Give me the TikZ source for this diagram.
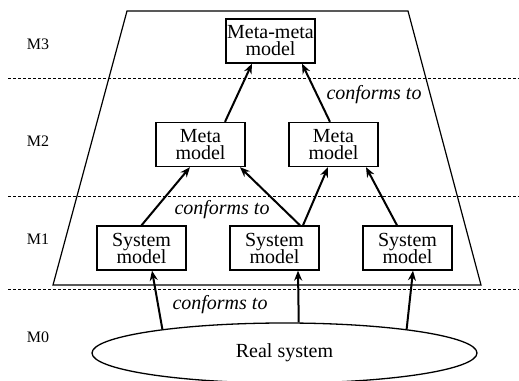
\documentclass[tikz,border=0pt]{standalone}
\usepackage{fontspec}
\setmainfont{Liberation Serif}
\usetikzlibrary{shapes.geometric,arrows.meta}
\newcommand\boxfont{\fontsize{20}{17}\selectfont\lineskiplimit=-20pt\relax}
\tikzset{
  model/.style={draw,rectangle,line width=1.3pt,minimum width=89pt,minimum height=44pt,
    inner sep=0pt,align=center,font=\boxfont},
  level/.style={font=\fontsize{16}{16}\selectfont},
  conf/.style={-{Stealth[length=10pt,width=8pt]},line width=2pt},
  note/.style={font=\fontsize{20}{20}\selectfont\itshape},
  layer/.style={dash pattern=on 3pt off 2pt,line width=0.8pt}
}
\begin{document}
\begin{tikzpicture}[x=1pt,y=-1pt]
          \useasboundingbox (0,0) rectangle (519,380);
          \draw[line width=1.2pt] (127,11) -- (408,11) -- (481,285) -- (53,285) -- cycle;
          \draw[layer] (8,78) -- (519,78);
          \draw[layer] (8,196) -- (519,196);
          \draw[layer] (8,289) -- (519,289);
          \node[level] (m3) at (38,44) {M3};
          \node[level] (m2) at (38,141) {M2};
          \node[level] (m1) at (38,239) {M1};
          \node[level] (m0) at (38,337) {M0};
          \node[model] (mm) at (270.5,41) {Meta-meta\\model};
          \node[model] (ml) at (200.5,144.5) {Meta\\model};
          \node[model] (mr) at (333.5,144.5) {Meta\\model};
          \node[model] (sl) at (141.5,248) {System\\model};
          \node[model] (sm) at (274.5,248) {System\\model};
          \node[model] (sr) at (407.5,248) {System\\model};
          \node[draw,ellipse,line width=1.3pt,minimum width=385pt,minimum height=60pt,inner sep=0pt,
            font=\fontsize{20}{20}\selectfont] (rs) at (284.5,353) {Real system};
          \node[note] (c2) at (374,95) {conforms to};
          \node[note] (c1) at (222,210) {conforms to};
          \node[note] (c0) at (220,305) {conforms to};
          \path[conf] ([xshift=24.5pt]ml.north) edge ([xshift=-18.5pt]mm.south);
          \path[conf] ([xshift=-3.5pt]mr.north) edge ([xshift=31.5pt]mm.south);
          \path[conf] (sl.north) edge ([xshift=-10.5pt]ml.south);
          \path[conf] ([xshift=25.5pt]sm.north) edge ([xshift=39.5pt]ml.south);
          \path[conf] ([xshift=28.5pt]sm.north) edge ([xshift=-5.5pt]mr.south);
          \path[conf] ([xshift=-10.5pt]sr.north) edge ([xshift=32.5pt]mr.south);
          \path[conf] (rs.169.5) edge ([xshift=10.5pt]sl.south);
          \path[conf] (rs.65.7) edge ([xshift=23.5pt]sm.south);
          \path[conf] (rs.11.6) edge ([xshift=5.5pt]sr.south);
        \end{tikzpicture}
\end{document}
